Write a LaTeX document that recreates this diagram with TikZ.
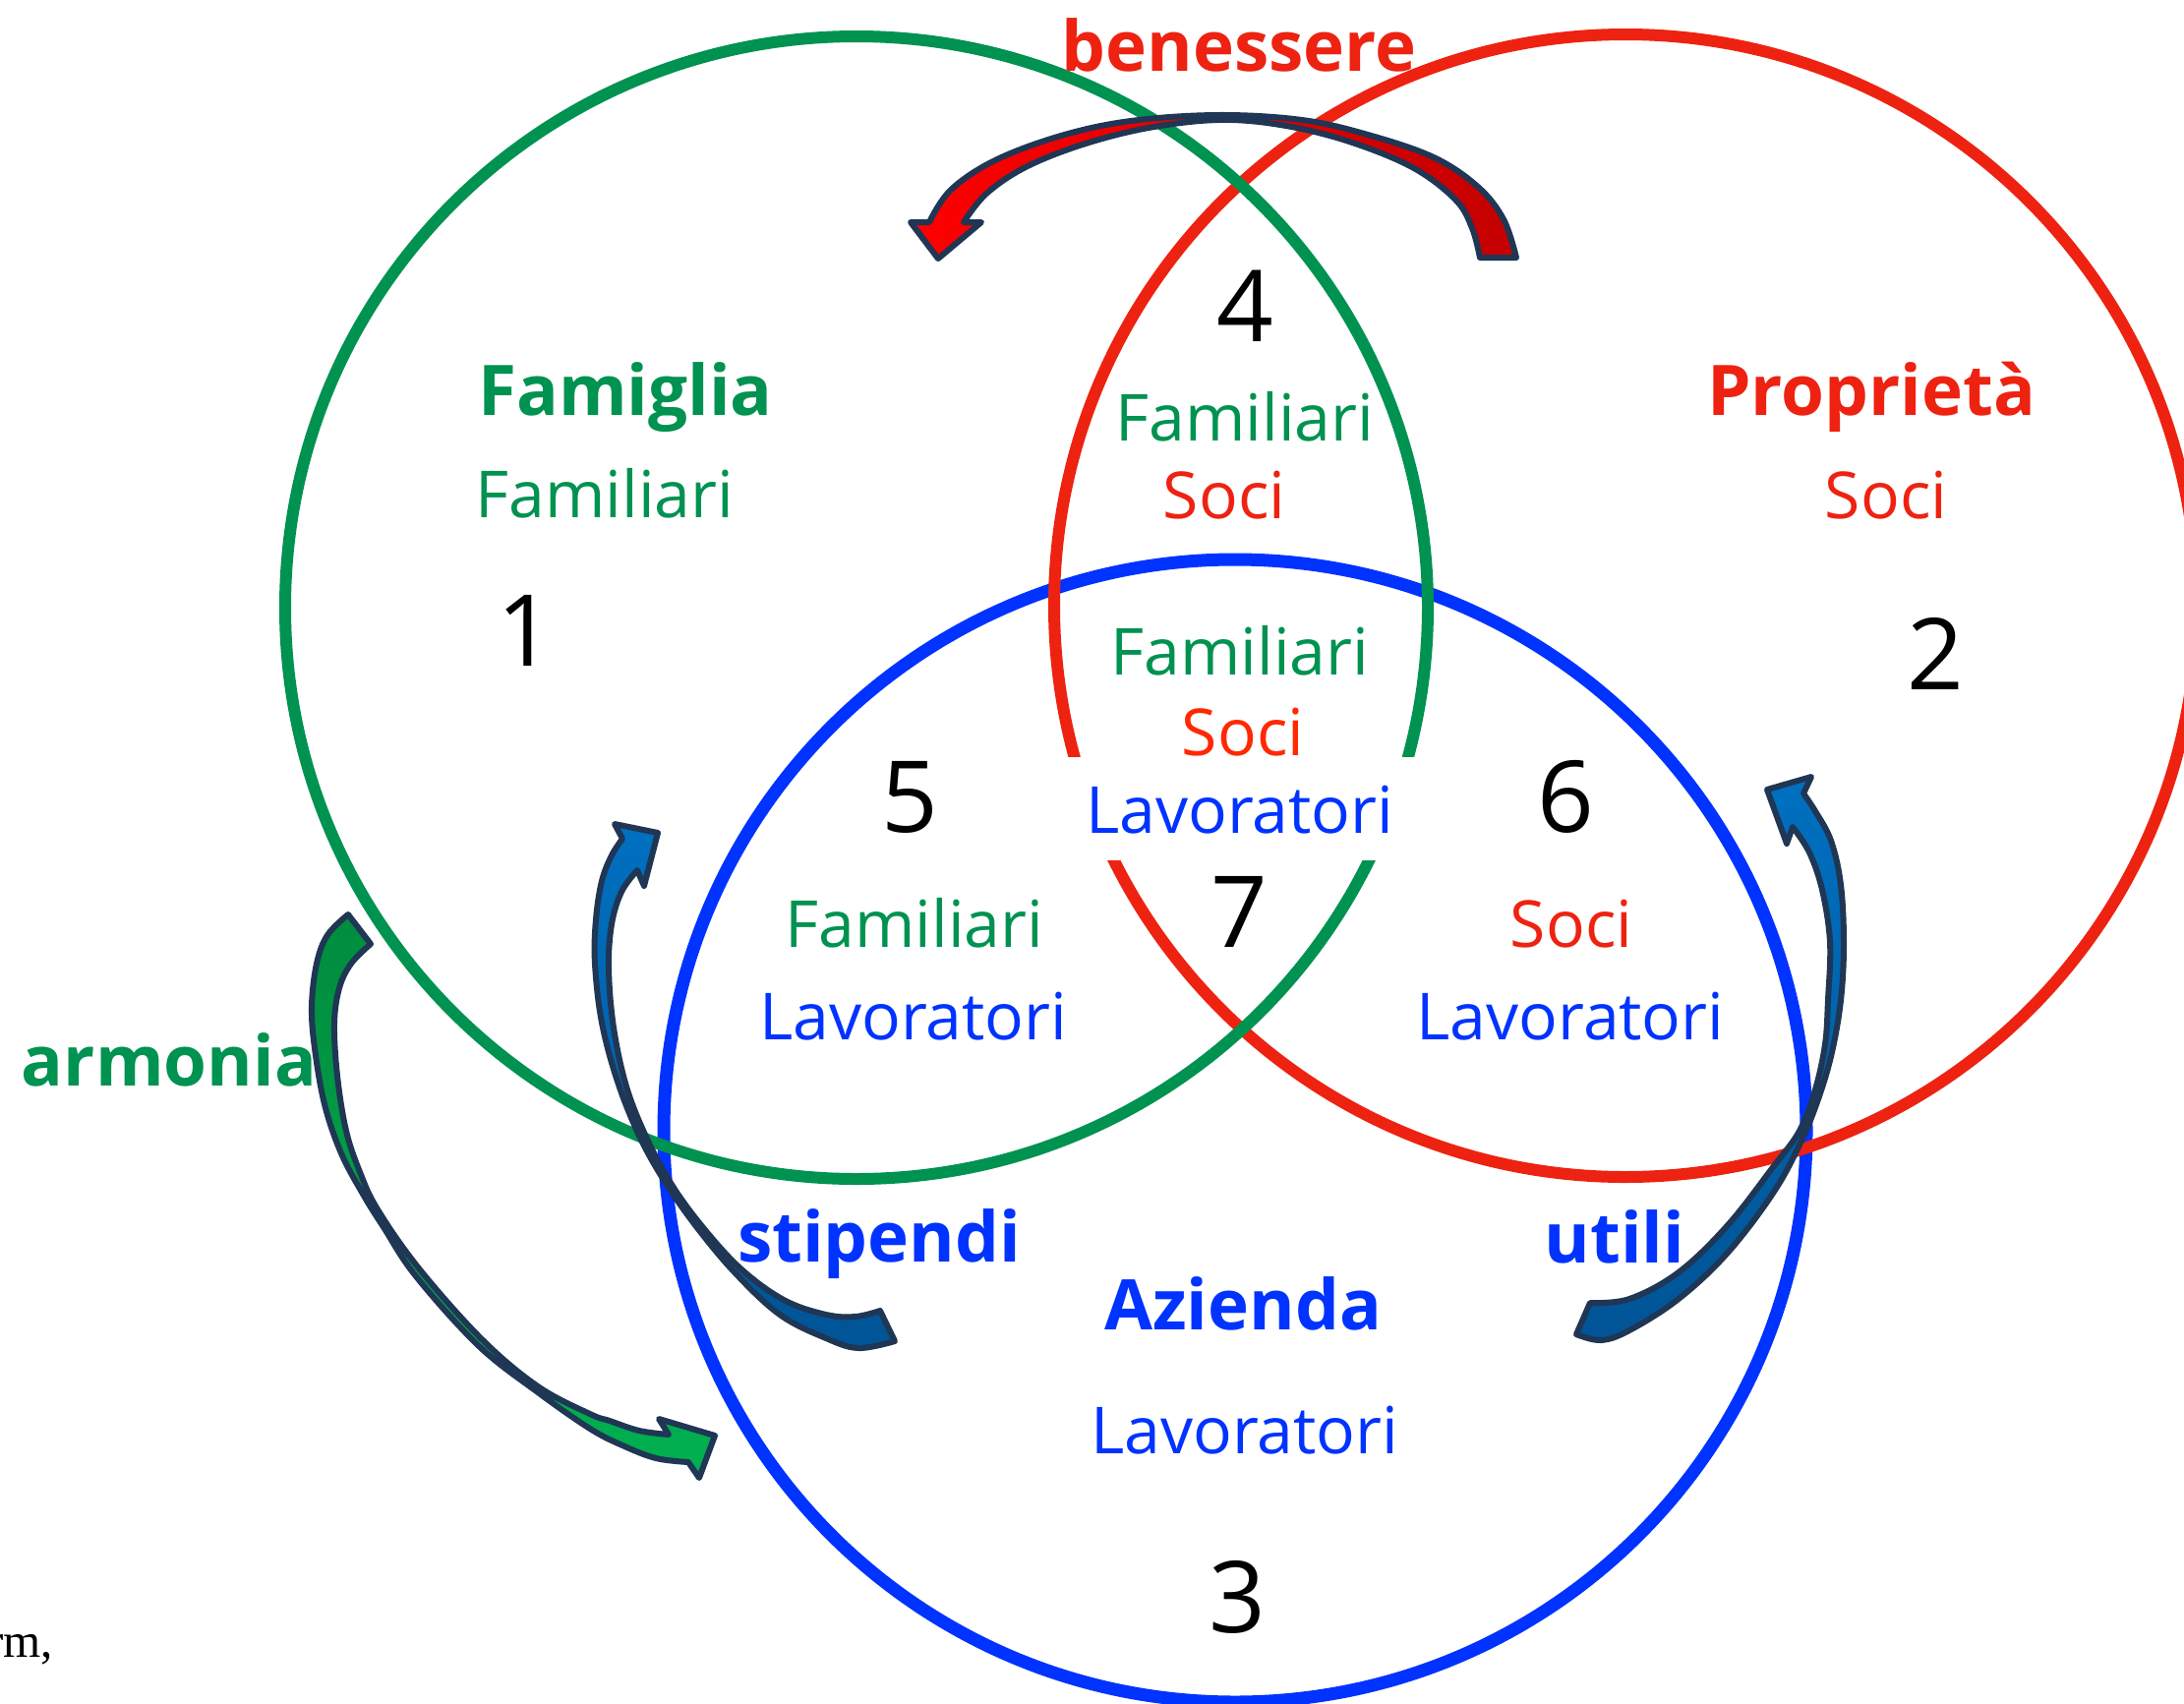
\documentclass[tikz,border=0pt]{standalone}
\usepackage{fontspec}
\setmainfont{Open Sans}
\newfontfamily\serifrm{Liberation Serif}
\definecolor{cgreen}{RGB}{0,146,80}
\definecolor{cred}{RGB}{238,34,17}
\definecolor{csoci}{RGB}{255,40,0}
\definecolor{cblue}{RGB}{0,51,255}
\definecolor{cnavy}{RGB}{31,54,84}
\definecolor{arrred}{RGB}{255,0,0}
\definecolor{arrdred}{RGB}{196,0,0}
\definecolor{arrgreenA}{RGB}{0,140,62}
\definecolor{arrgreenB}{RGB}{0,176,80}
\definecolor{arrblueA}{RGB}{0,112,192}
\definecolor{arrblueB}{RGB}{0,84,150}
\begin{document}
\begin{tikzpicture}[x=1pt,y=-1pt,
  lbl/.style={inner sep=0pt, anchor=base},
  reg/.style={lbl, font=\fontsize{66}{70}\selectfont},
  bld/.style={lbl, font=\fontsize{71}{78}\selectfont\bfseries},
  dig/.style={lbl, font=\fontsize{101}{110}\selectfont, text=black},
  curvedarrow/.style={draw=cnavy, line width=6pt, line join=round},
]
\useasboundingbox (0,0) rectangle (2221,1732);
\clip (0,0) rectangle (2221,1732);
\fill[white] (0,0) rectangle (2221,1732);

% circles
\draw[cblue, line width=13pt] (1256,1150) circle[radius=581pt];
\draw[cred, line width=12pt] (1653,616) circle[radius=581pt];
\draw[cgreen, line width=12pt] (871,618) circle[radius=581pt];

% white mask behind central text line
\node[fill=white, minimum width=375pt, minimum height=105pt, inner sep=0pt] (mask) at (1262,822) {};

% texts
\node[bld, text=cred] (benessere) at (1260,72) {benessere};
\node[bld, text=cgreen] (famiglia) at (636,422) {Famiglia};
\node[reg, text=cgreen] (fam1) at (615,526) {Familiari};
\node[dig] (n1) at (534,677) {1};
\node[bld, text=cred] (proprieta) at (1903,422) {Proprietà};
\node[reg, text=cred] (soci2) at (1918,527) {Soci};
\node[dig] (n2) at (1968,701) {2};
\node[dig] (n4) at (1266,347) {4};
\node[reg, text=cgreen] (fam4) at (1266,448) {Familiari};
\node[reg, text=cred] (soci4) at (1245,527) {Soci};
\node[reg, text=cgreen] (fam7) at (1261,686) {Familiari};
\node[reg, text=csoci] (soci7) at (1264,768) {Soci};
\node[reg, text=cblue] (lav7) at (1261,847) {Lavoratori};
\node[dig] (n7) at (1260,963) {7};
\node[dig] (n5) at (925,846) {5};
\node[dig] (n6) at (1592,846) {6};
\node[reg, text=cgreen] (fam5) at (930,963) {Familiari};
\node[reg, text=cblue] (lav5) at (929,1057) {Lavoratori};
\node[reg, text=cred] (soci6) at (1598,963) {Soci};
\node[reg, text=cblue] (lav6) at (1597,1057) {Lavoratori};
\node[bld, text=cgreen] (armonia) at (172,1104) {armonia};
\node[bld, text=cblue] (stipendi) at (894,1283) {stipendi};
\node[bld, text=cblue] (utili) at (1642,1284) {utili};
\node[bld, text=cblue] (azienda) at (1264,1352) {Azienda};
\node[reg, text=cblue] (lav3) at (1266,1478) {Lavoratori};
\node[dig] (n3) at (1258,1660) {3};
\node[inner sep=0pt, anchor=base east, font=\serifrm\fontsize{49}{52}\selectfont] (rm) at (54,1685) {rm,};

% red curved arrow (benessere)
\path[curvedarrow, left color=arrred, right color=arrdred]
 plot[smooth, tension=0.6] coordinates {(1542,262) (1529,223) (1503,190) (1458,160) (1391,137) (1324,122) (1239,117) (1150,123) (1079,138) (1012,163) (967,193) (945,226)}
 -- (926,226) -- (954,263) -- (998,226) -- (980,226)
 -- plot[smooth, tension=0.6] coordinates {(980,226) (1003,197) (1043,170) (1101,147) (1168,130) (1239,122) (1302,127) (1369,143) (1436,170) (1480,203) (1497,232) (1505,262)}
 -- cycle;

% green curved arrow (armonia)
\path[curvedarrow, top color=arrgreenA, bottom color=arrgreenB]
 plot[smooth, tension=0.6] coordinates {(354,930) (333,951) (322,980) (317,1023) (320,1066) (330,1123) (347,1173) (370,1216) (390,1248) (423,1298) (487,1369) (547,1416) (600,1453) (633,1470) (667,1483) (700,1487)}
 -- (711,1503) -- (727,1460) -- (670,1443) -- (680,1459)
 -- plot[smooth, tension=0.6] coordinates {(680,1459) (650,1455) (620,1445) (600,1438) (547,1410) (490,1362) (426,1290) (384,1230) (366,1192) (352,1150) (343,1094) (340,1041) (345,1005) (357,980) (377,960)}
 -- cycle;

% blue curved arrow (stipendi)
\path[curvedarrow, top color=arrblueA, bottom color=arrblueB]
 plot[smooth, tension=0.6] coordinates {(910,1364) (873,1371) (840,1361) (793,1337) (747,1294) (707,1246) (675,1200) (650,1155) (628,1100) (612,1040) (605,980) (606,935) (612,896) (622,870) (633,853)}
 -- (625,838) -- (669,847) -- (655,901) -- (648,885)
 -- plot[smooth, tension=0.6] coordinates {(648,885) (632,907) (622,940) (619,985) (624,1045) (637,1105) (657,1156) (682,1203) (713,1246) (753,1290) (797,1322) (840,1337) (870,1339) (895,1333)}
 -- cycle;

% blue curved arrow (utili)
\path[curvedarrow, top color=arrblueA, bottom color=arrblueB]
 plot[smooth, tension=0.6] coordinates {(1603,1357) (1628,1363) (1657,1353) (1707,1321) (1757,1274) (1804,1212) (1832,1160) (1850,1115) (1863,1070) (1872,1017) (1875,960) (1872,900) (1862,855) (1846,825) (1834,807)}
 -- (1842,790) -- (1797,803) -- (1817,858) -- (1823,841)
 -- plot[smooth, tension=0.6] coordinates {(1823,841) (1840,867) (1853,905) (1861,958) (1859,1017) (1856,1062) (1846,1108) (1830,1150) (1803,1187) (1757,1246) (1707,1294) (1657,1321) (1617,1325)}
 -- cycle;
\end{tikzpicture}
\end{document}
